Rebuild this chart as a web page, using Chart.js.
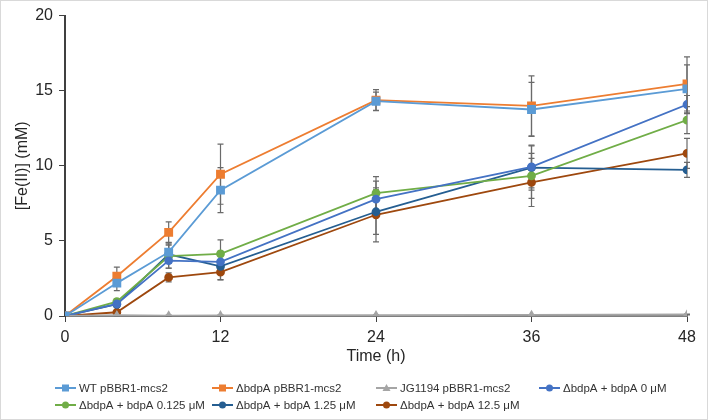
<!DOCTYPE html>
<html>
<head>
<meta charset="utf-8">
<script src="https://cdn.jsdelivr.net/npm/chart.js@4.4.1/dist/chart.umd.min.js"></script>
<style>
  body { margin: 0; background: #fff; }
  #wrap { width: 708px; height: 420px; }
</style>
</head>
<body>
<div id="wrap"><canvas id="Chart" width="708" height="420"></canvas></div>
<script>
// sampling times (h)
const times = [0, 4, 8, 12, 24, 36, 48];

const wtMcs2 = [0, 2.19, 4.25, 8.38, 14.3, 13.75, 15.12];
const wtMcs2Err = [0, 0.5, 0.65, 1.5, 0.6, 1.8, 1.6];
const dMcs2 = [0, 2.65, 5.57, 9.44, 14.37, 13.99, 15.45];
const dMcs2Err = [0, 0.6, 0.7, 2.0, 0.7, 2.0, 1.8];
const jgMcs2 = [0, 0.05, 0.03, 0.04, 0.05, 0.07, 0.1];
const jgMcs2Err = [0, 0.03, 0.03, 0.03, 0.03, 0.03, 0.03];
const bdp0 = [0, 0.8, 3.69, 3.61, 7.78, 9.93, 14.08];
const bdp0Err = [0, 0.2, 0.5, 0.7, 1.2, 1.4, 0.6];
const bdp0125 = [0, 0.95, 3.98, 4.14, 8.18, 9.33, 13.04];
const bdp0125Err = [0, 0.2, 0.8, 0.93, 1.1, 1.5, 0.9];
const bdp125 = [0, 0.78, 4.11, 3.3, 6.94, 9.88, 9.73];
const bdp125Err = [0, 0.2, 0.6, 0.9, 1.5, 1.5, 0.5];
const bdp1250 = [0, 0.25, 2.57, 2.92, 6.74, 8.89, 10.83];
const bdp1250Err = [0, 0.1, 0.3, 0.5, 1.8, 1.6, 1.0];

const xTicks = [0, 12, 24, 36, 48];
const yTicks = [0, 5, 10, 15, 20];

// legend grid (Excel style fixed columns)
const legendCols = [55, 212, 376, 539];
const legendRows = [388, 405];

function series(label, values, errs, color, shape) {
  return {
    label: label,
    data: times.map((t, i) => ({ x: t, y: values[i] })),
    errors: errs,
    borderColor: color,
    backgroundColor: color,
    borderWidth: 1.8,
    pointStyle: shape,
    pointRadius: shape === "rect" ? 5 : 3.5,
    pointHoverRadius: 4,
    tension: 0,
  };
}

const datasets = [
  series("WT pBBR1-mcs2", wtMcs2, wtMcs2Err, "#5B9BD5", "rect"),
  series("ΔbdpA pBBR1-mcs2", dMcs2, dMcs2Err, "#ED7D31", "rect"),
  series("JG1194 pBBR1-mcs2", jgMcs2, jgMcs2Err, "#A5A5A5", "triangle"),
  series("ΔbdpA + bdpA 0 μM", bdp0, bdp0Err, "#4472C4", "circle"),
  series("ΔbdpA + bdpA 0.125 μM", bdp0125, bdp0125Err, "#70AD47", "circle"),
  series("ΔbdpA + bdpA 1.25 μM", bdp125, bdp125Err, "#255E91", "circle"),
  series("ΔbdpA + bdpA 12.5 μM", bdp1250, bdp1250Err, "#9E480E", "circle"),
];

const errorBars = {
  id: "errorBars",
  beforeDatasetsDraw(chart) {
    const ctx = chart.ctx;
    const xs = chart.scales.x, ys = chart.scales.y;
    ctx.save();
    ctx.strokeStyle = "#6a6a6a";
    ctx.lineWidth = 1.2;
    chart.data.datasets.forEach((ds) => {
      ds.data.forEach((p, i) => {
        const e = ds.errors[i];
        if (!e) return;
        const px = xs.getPixelForValue(p.x);
        const top = ys.getPixelForValue(p.y + e);
        const bot = ys.getPixelForValue(Math.max(0, p.y - e));
        ctx.beginPath();
        ctx.moveTo(px, top); ctx.lineTo(px, bot);
        ctx.moveTo(px - 3, top); ctx.lineTo(px + 3, top);
        ctx.moveTo(px - 3, bot); ctx.lineTo(px + 3, bot);
        ctx.stroke();
      });
    });
    ctx.restore();
  },
};

// legend drawn in fixed columns like the Excel original
const gridLegend = {
  id: "gridLegend",
  afterDraw(chart) {
    const ctx = chart.ctx;
    ctx.save();
    ctx.font = "11.5px 'Liberation Sans', Arial, sans-serif";
    ctx.textBaseline = "middle";
    chart.data.datasets.forEach((ds, i) => {
      const x = legendCols[i % 4];
      const y = legendRows[Math.floor(i / 4)];
      ctx.strokeStyle = ds.borderColor;
      ctx.fillStyle = ds.borderColor;
      ctx.lineWidth = 2;
      ctx.beginPath();
      ctx.moveTo(x, y); ctx.lineTo(x + 21, y);
      ctx.stroke();
      ctx.beginPath();
      const cx = x + 10.5;
      if (ds.pointStyle === "rect") ctx.rect(cx - 3.5, y - 3.5, 7, 7);
      else if (ds.pointStyle === "triangle") { ctx.moveTo(cx, y - 4); ctx.lineTo(cx + 4, y + 3); ctx.lineTo(cx - 4, y + 3); ctx.closePath(); }
      else ctx.arc(cx, y, 3.5, 0, Math.PI * 2);
      ctx.fill();
      ctx.fillStyle = "#333333";
      ctx.fillText(ds.label, x + 24, y + 0.5);
    });
    ctx.strokeStyle = "#d9d9d9";
    ctx.lineWidth = 1;
    ctx.strokeRect(0.5, 0.5, chart.width - 1, chart.height - 1);
    ctx.restore();
  },
};

Chart.defaults.font.family = "'Liberation Sans', Arial, sans-serif";
Chart.defaults.color = "#262626";

new Chart(document.getElementById("Chart").getContext("2d"), {
  type: "line",
  data: { datasets: datasets },
  plugins: [errorBars, gridLegend],
  options: {
    responsive: false,
    animation: false,
    layout: { padding: { left: 4, right: 21, top: 6, bottom: 43 } },
    plugins: {
      tooltip: { enabled: false },
      legend: { display: false },
    },
    scales: {
      x: {
        type: "linear",
        min: 0,
        max: 48,
        afterBuildTicks(scale) { scale.ticks = xTicks.map((v) => ({ value: v })); },
        grid: { drawOnChartArea: false, drawTicks: true, tickLength: 6, color: "#404040" },
        border: { color: "#7f7f7f", width: 2 },
        ticks: { font: { size: 16 }, color: "#262626", padding: 6 },
        title: { display: true, text: "Time (h)", font: { size: 16 }, color: "#262626", padding: { top: 2, bottom: 11 } },
        afterFit(scale) { scale.height = 61; },
      },
      y: {
        min: 0,
        max: 20,
        afterBuildTicks(scale) { scale.ticks = yTicks.map((v) => ({ value: v })); },
        grid: { drawOnChartArea: false, drawTicks: true, tickLength: 6, color: "#404040" },
        border: { color: "#404040", width: 2 },
        ticks: { font: { size: 16 }, color: "#262626", padding: 6 },
        title: { display: true, text: "[Fe(II)] (mM)", font: { size: 16 }, color: "#262626", padding: { top: 9, bottom: 2 } },
        afterFit(scale) { scale.width = 61; },
      },
    },
  },
});
</script>
</body>
</html>
